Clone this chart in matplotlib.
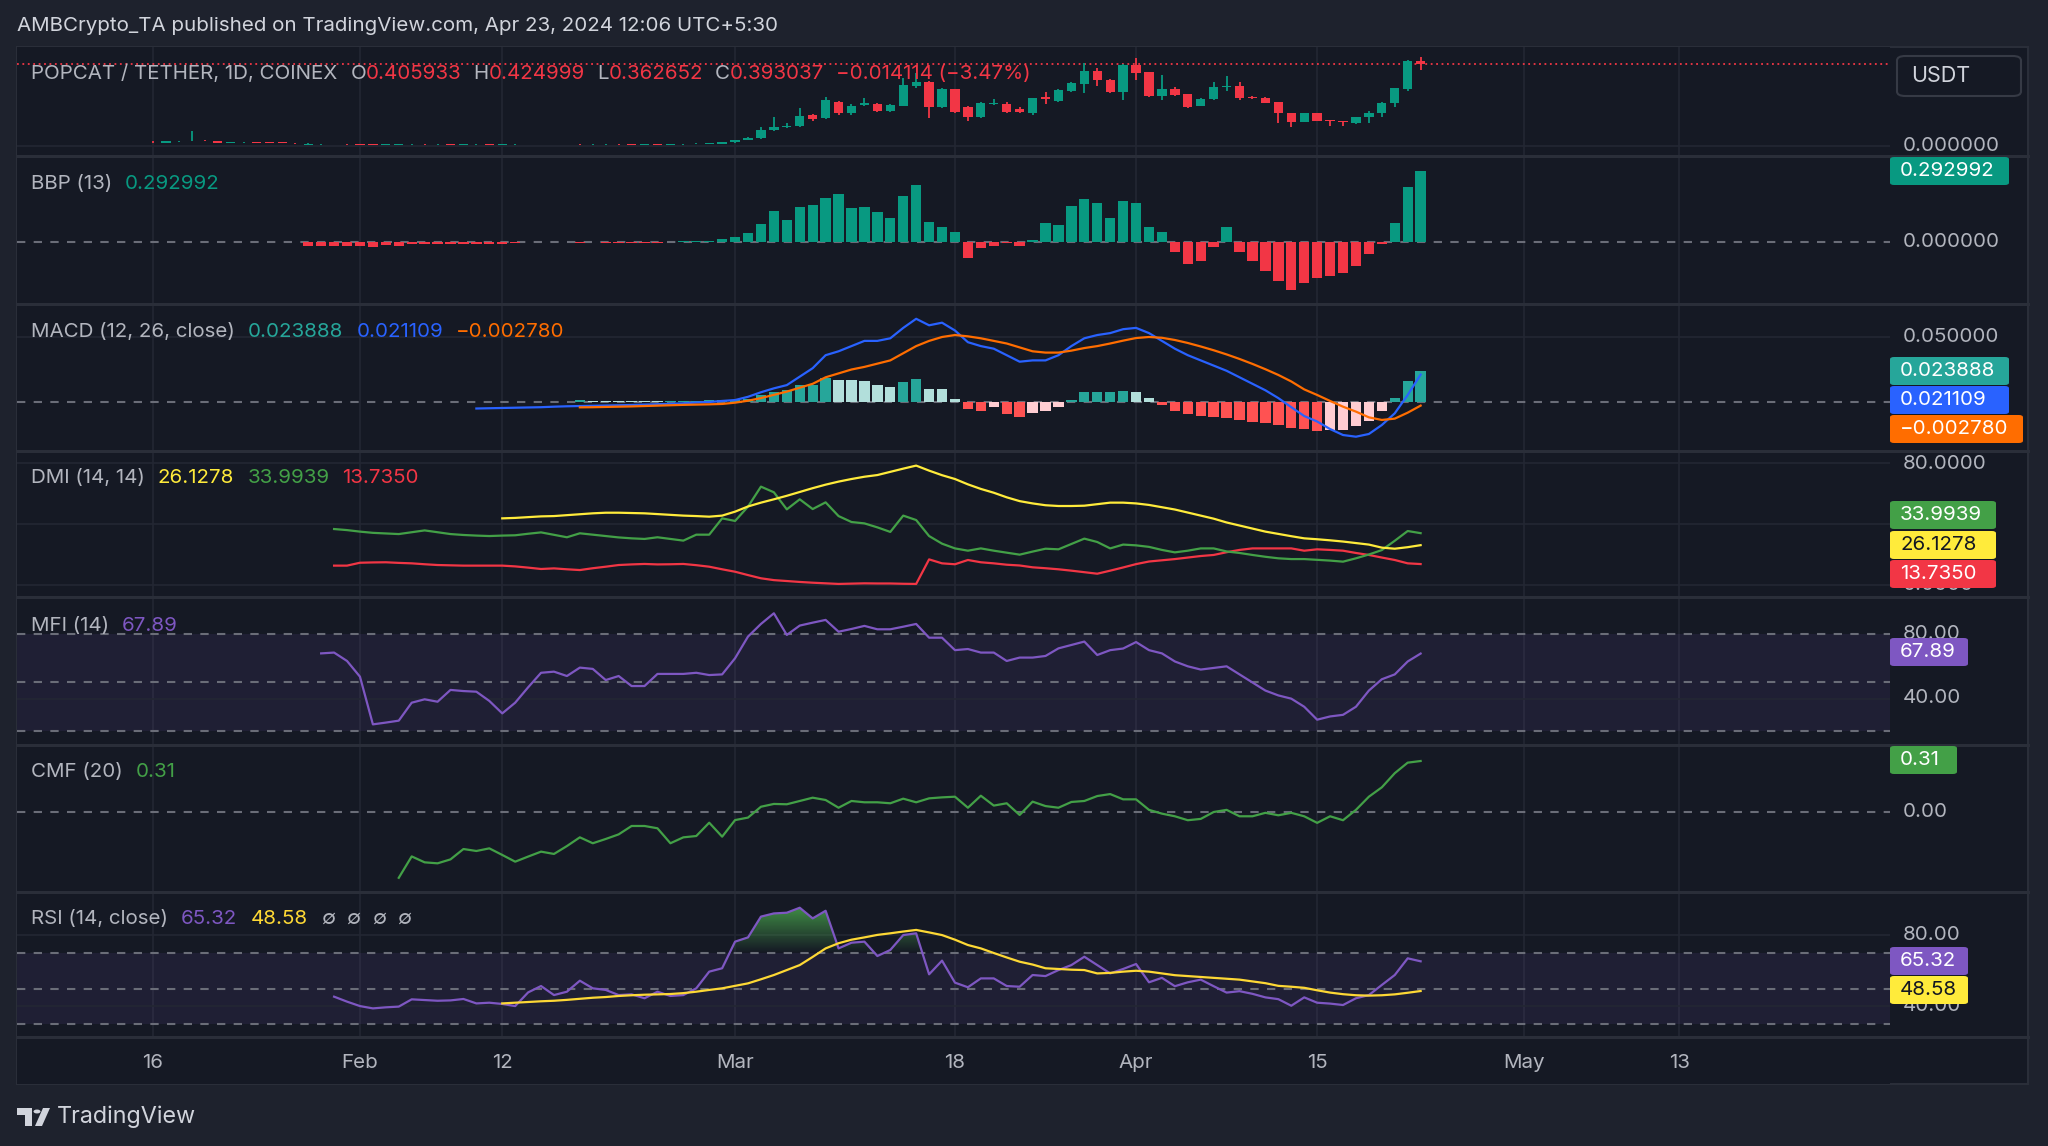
import numpy as np
import matplotlib
matplotlib.use("Agg")
import matplotlib.pyplot as plt
from matplotlib.patches import FancyBboxPatch, Polygon, Rectangle, Circle
from matplotlib.path import Path
from matplotlib.colors import LinearSegmentedColormap

plt.rcParams['font.family'] = ['Inter', 'DejaVu Sans']

W, H = 2048, 1146
BG_OUT = '#1e222d'
BG_IN = '#151924'
GRID = '#232733'
SEP = '#2a2e39'
TXT = '#b2b5be'
UP = '#089981'
DN = '#f23645'

# ---- data: one value per daily bar, day 0 = Jan 16 2024, last = Apr 23 2024
n_days = 99
days = np.arange(n_days)
tick_days = [0, 16, 27, 45, 62, 76, 90, 106, 118]
tick_labels = ['16', 'Feb', '12', 'Mar', '18', 'Apr', '15', 'May', '13']

opens = [0.021, 0.016, 0.022, 0.023, 0.025, 0.023, 0.014, 0.017, 0.018, 0.016,
         0.015, 0.014, 0.006, 0.008, 0.009, 0.010, 0.009, 0.008, 0.006, 0.007,
         0.008, 0.009, 0.008, 0.008, 0.007, 0.008, 0.008, 0.007, 0.008, 0.009,
         0.010, 0.009, 0.010, 0.009, 0.008, 0.008, 0.009, 0.008, 0.007, 0.008,
         0.007, 0.008, 0.009, 0.011, 0.0096, 0.0176, 0.029, 0.038, 0.077, 0.090,
         0.096, 0.149, 0.133, 0.212, 0.157, 0.197, 0.201, 0.169, 0.192, 0.288,
         0.308, 0.185, 0.272, 0.189, 0.141, 0.200, 0.200, 0.176, 0.157, 0.233,
         0.217, 0.265, 0.297, 0.360, 0.316, 0.260, 0.388, 0.353, 0.240, 0.272,
         0.249, 0.192, 0.224, 0.284, 0.288, 0.236, 0.230, 0.211, 0.157, 0.117,
         0.157, 0.125, 0.120, 0.109, 0.137, 0.157, 0.205, 0.272, 0.405933]
closes = [0.018, 0.022, 0.024, 0.026, 0.023, 0.015, 0.017, 0.018, 0.016, 0.015,
          0.014, 0.013, 0.008, 0.009, 0.010, 0.009, 0.007, 0.006, 0.007, 0.008,
          0.009, 0.008, 0.008, 0.007, 0.008, 0.008, 0.007, 0.008, 0.009, 0.010,
          0.009, 0.010, 0.009, 0.008, 0.008, 0.009, 0.008, 0.007, 0.008, 0.007,
          0.008, 0.009, 0.011, 0.012, 0.0176, 0.029, 0.038, 0.077, 0.093, 0.096,
          0.144, 0.128, 0.220, 0.157, 0.192, 0.205, 0.169, 0.197, 0.292, 0.308,
          0.189, 0.272, 0.165, 0.141, 0.205, 0.205, 0.165, 0.165, 0.228, 0.227,
          0.268, 0.300, 0.360, 0.316, 0.260, 0.388, 0.348, 0.240, 0.272, 0.245,
          0.189, 0.227, 0.281, 0.289, 0.228, 0.228, 0.208, 0.160, 0.117, 0.157,
          0.120, 0.121, 0.113, 0.137, 0.160, 0.205, 0.276, 0.405933, 0.393037]
highs = [0.023, 0.024, 0.026, 0.070, 0.027, 0.024, 0.018, 0.019, 0.019, 0.017,
         0.016, 0.015, 0.014, 0.011, 0.012, 0.011, 0.010, 0.009, 0.009, 0.010,
         0.011, 0.010, 0.010, 0.009, 0.010, 0.010, 0.009, 0.010, 0.011, 0.012,
         0.011, 0.012, 0.011, 0.010, 0.010, 0.011, 0.010, 0.009, 0.010, 0.009,
         0.010, 0.011, 0.013, 0.015, 0.020, 0.031, 0.042, 0.093, 0.137, 0.110,
         0.180, 0.155, 0.233, 0.215, 0.200, 0.228, 0.205, 0.200, 0.324, 0.348,
         0.310, 0.280, 0.275, 0.190, 0.210, 0.224, 0.210, 0.185, 0.232, 0.260,
         0.272, 0.305, 0.400, 0.373, 0.320, 0.395, 0.420, 0.355, 0.340, 0.285,
         0.250, 0.230, 0.305, 0.335, 0.305, 0.240, 0.235, 0.213, 0.160, 0.160,
         0.160, 0.126, 0.121, 0.140, 0.169, 0.210, 0.280, 0.410, 0.424999]
lows = [0.016, 0.015, 0.021, 0.022, 0.022, 0.013, 0.013, 0.016, 0.015, 0.014,
        0.013, 0.012, 0.005, 0.007, 0.008, 0.007, 0.006, 0.005, 0.005, 0.006,
        0.007, 0.007, 0.007, 0.006, 0.006, 0.007, 0.006, 0.006, 0.007, 0.008,
        0.008, 0.008, 0.008, 0.007, 0.007, 0.007, 0.007, 0.006, 0.006, 0.006,
        0.006, 0.007, 0.008, 0.010, 0.009, 0.015, 0.027, 0.035, 0.070, 0.085,
        0.090, 0.120, 0.128, 0.150, 0.150, 0.190, 0.165, 0.165, 0.190, 0.280,
        0.133, 0.180, 0.160, 0.121, 0.135, 0.195, 0.160, 0.158, 0.150, 0.200,
        0.212, 0.260, 0.255, 0.290, 0.255, 0.222, 0.315, 0.235, 0.220, 0.240,
        0.180, 0.190, 0.220, 0.265, 0.220, 0.225, 0.205, 0.109, 0.090, 0.115,
        0.118, 0.098, 0.097, 0.107, 0.108, 0.137, 0.185, 0.262, 0.362652]
change_text = '-0.014114 (-3.47%)'

# BBP (13), from day 12
bbp_start = 12
bbp = [-0.018, -0.016, -0.016, -0.015, -0.018, -0.019, -0.014, -0.015, -0.010, -0.008,
       -0.010, -0.009, -0.008, -0.009, -0.007, -0.008, -0.006, 0.002, 0.001, -0.002,
       0.001, -0.003, 0.001, -0.004, -0.005, -0.003, -0.004, -0.005, 0.002, 0.003,
       0.004, 0.006, 0.012, 0.019, 0.037, 0.075, 0.129, 0.092, 0.146, 0.154,
       0.182, 0.198, 0.139, 0.146, 0.122, 0.100, 0.190, 0.236, 0.083, 0.061,
       0.042, -0.068, -0.023, -0.015, -0.004, -0.015, 0.010, 0.078, 0.070, 0.149,
       0.177, 0.160, 0.100, 0.170, 0.160, 0.060, 0.040, -0.040, -0.090, -0.080,
       -0.020, 0.060, -0.040, -0.080, -0.120, -0.160, -0.200, -0.170, -0.150, -0.140,
       -0.130, -0.100, -0.050, -0.010, 0.080, 0.228, 0.292992]

# MACD (12, 26, close): macd line from day 25, signal and histogram from day 33
macd_start = 25
macd_line = [-0.0050, -0.0048, -0.0046, -0.0044, -0.0042, -0.0040, -0.0036, -0.0033, -0.0031, -0.0029,
             -0.0027, -0.0025, -0.0023, -0.0020, -0.0017, -0.0014, -0.0010, -0.0004, 0.0000, 0.0008,
             0.0015, 0.0040, 0.0075, 0.0105, 0.0130, 0.0195, 0.0260, 0.0360, 0.0390, 0.0430,
             0.0470, 0.0470, 0.0490, 0.0570, 0.0640, 0.0590, 0.0610, 0.0550, 0.0460, 0.0430,
             0.0410, 0.0360, 0.0310, 0.0320, 0.0320, 0.0360, 0.0430, 0.0490, 0.0515, 0.0530,
             0.0560, 0.0570, 0.0530, 0.0470, 0.0410, 0.0360, 0.0320, 0.0280, 0.0240, 0.0190,
             0.0140, 0.0090, 0.0030, -0.0040, -0.0108, -0.0150, -0.0208, -0.0254, -0.0267, -0.0246,
             -0.0177, -0.0087, 0.0054, 0.021109]
signal_start = 33
signal_line = [-0.0041, -0.0040, -0.0038, -0.0036, -0.0034, -0.0031, -0.0028, -0.0025, -0.0022, -0.0020,
               -0.0018, -0.0015, -0.0005, 0.0010, 0.0030, 0.0055, 0.0080, 0.0110, 0.0140, 0.0190,
               0.0220, 0.0250, 0.0270, 0.0295, 0.0320, 0.0375, 0.0430, 0.0470, 0.0500, 0.0515,
               0.0505, 0.0490, 0.0470, 0.0450, 0.0420, 0.0390, 0.0380, 0.0380, 0.0395, 0.0415,
               0.0430, 0.0450, 0.0472, 0.0492, 0.0500, 0.0494, 0.0477, 0.0454, 0.0427, 0.0398,
               0.0366, 0.0331, 0.0293, 0.0252, 0.0208, 0.0158, 0.0097, 0.0054, 0.0008, -0.0036,
               -0.0074, -0.0118, -0.0138, -0.0128, -0.0082, -0.002780]
hist = [0.0012, 0.0010, 0.0008, 0.0007, 0.0006, 0.0005, 0.0004, 0.0005, 0.0007, 0.0009,
        0.0012, 0.0013, 0.0015, 0.0023, 0.0054, 0.0080, 0.0090, 0.0130, 0.0130, 0.0187,
        0.0170, 0.0168, 0.0164, 0.0130, 0.0113, 0.0156, 0.0180, 0.0100, 0.0098, 0.0023,
        -0.0056, -0.0069, -0.0040, -0.0095, -0.0118, -0.0087, -0.0067, -0.0036, 0.0015, 0.0074,
        0.0080, 0.0080, 0.0088, 0.0078, 0.0030, -0.0024, -0.0067, -0.0094, -0.0107, -0.0118,
        -0.0126, -0.0141, -0.0153, -0.0162, -0.0178, -0.0198, -0.0205, -0.0220, -0.0215, -0.0215,
        -0.0185, -0.0144, -0.0067, 0.0028, 0.0160, 0.023888]

# DMI (14, 14): +DI / -DI from day 14, ADX from day 27
di_start = 14
di_plus = [36.7, 36.0, 35.0, 34.2, 33.8, 33.4, 34.6, 35.8, 34.6, 33.4,
           32.8, 32.4, 32.1, 32.4, 32.6, 33.6, 34.5, 32.9, 31.3, 33.9,
           33.0, 32.1, 31.2, 30.6, 30.2, 31.3, 30.2, 29.1, 33.0, 33.0,
           43.7, 42.0, 51.4, 64.5, 60.8, 49.6, 56.2, 49.8, 54.2, 45.2,
           41.3, 40.4, 37.8, 34.8, 45.5, 42.6, 32.1, 27.1, 24.0, 22.5,
           24.0, 22.5, 21.2, 19.9, 21.9, 23.8, 23.4, 26.9, 30.4, 28.2,
           24.0, 26.5, 26.0, 25.0, 23.0, 21.4, 22.5, 24.0, 24.0, 22.0,
           21.0, 19.7, 18.5, 17.5, 17.0, 17.0, 16.5, 16.0, 15.3, 17.5,
           20.0, 22.9, 29.0, 35.4, 33.9939]
di_minus = [12.7, 12.7, 14.6, 14.8, 14.9, 14.5, 14.2, 13.6, 13.1, 12.9,
            12.7, 12.7, 12.7, 12.7, 12.2, 11.4, 10.5, 10.9, 10.3, 9.8,
            11.0, 12.0, 13.1, 13.5, 13.8, 13.5, 13.6, 13.8, 13.0, 12.0,
            10.3, 8.7, 6.5, 4.4, 3.2, 2.6, 2.0, 1.5, 1.1, 0.7,
            0.9, 1.1, 1.0, 1.0, 0.8, 0.7, 16.8, 14.2, 13.6, 16.4,
            14.9, 14.2, 13.3, 12.8, 11.6, 11.0, 10.3, 9.4, 8.4, 7.4,
            9.4, 11.5, 13.7, 15.4, 16.2, 17.0, 18.0, 19.0, 19.7, 21.5,
            23.0, 24.0, 24.0, 24.0, 24.0, 22.5, 23.4, 23.0, 22.5, 21.0,
            19.7, 18.0, 16.4, 14.2, 13.7350]
adx_start = 27
adx = [43.7, 44.0, 44.5, 45.0, 45.2, 45.8, 46.4, 47.0, 47.4, 47.4,
       47.2, 47.0, 46.5, 46.0, 45.5, 45.2, 44.8, 45.5, 48.1, 51.5,
       54.0, 56.2, 58.5, 61.0, 63.5, 65.8, 67.8, 69.5, 71.0, 72.1,
       74.2, 76.3, 78.3, 75.0, 72.0, 69.5, 66.0, 63.0, 60.5, 57.5,
       55.0, 53.5, 52.3, 51.8, 51.8, 52.0, 53.0, 54.0, 54.0, 53.5,
       52.5, 51.0, 49.5, 47.5, 45.5, 43.5, 41.0, 39.0, 37.0, 35.0,
       33.5, 32.0, 30.6, 30.0, 29.3, 28.5, 27.5, 26.5, 24.5, 23.8,
       24.8, 26.1278]

# MFI (14), from day 13
mfi_start = 13
mfi = [68.0, 68.5, 63.3, 53.6, 24.1, 25.2, 26.4, 37.5, 39.6, 38.1,
       45.4, 44.7, 44.3, 38.6, 30.9, 37.5, 47.0, 56.0, 56.7, 54.0,
       59.2, 58.4, 51.5, 54.0, 47.8, 47.8, 55.3, 55.3, 55.3, 56.0,
       54.6, 55.0, 65.0, 78.4, 86.2, 92.8, 79.4, 85.2, 87.0, 88.7,
       81.4, 83.1, 85.0, 82.9, 82.9, 84.5, 86.2, 77.7, 77.7, 70.0,
       70.7, 68.5, 68.5, 63.3, 65.4, 65.4, 66.4, 71.1, 73.2, 75.3,
       67.0, 70.0, 71.0, 75.0, 70.0, 68.0, 63.0, 60.0, 58.0, 59.0,
       60.0, 55.0, 50.0, 45.0, 42.0, 40.0, 35.0, 27.0, 29.0, 30.0,
       35.0, 45.0, 52.0, 55.0, 63.0, 67.89]

# CMF (20), from day 19
cmf_start = 19
cmf = [-0.400, -0.270, -0.306, -0.312, -0.288, -0.225, -0.237, -0.221, -0.261, -0.302,
       -0.271, -0.241, -0.255, -0.207, -0.154, -0.190, -0.164, -0.136, -0.085, -0.085,
       -0.099, -0.190, -0.154, -0.146, -0.065, -0.150, -0.049, -0.034, 0.032, 0.049,
       0.047, 0.067, 0.087, 0.073, 0.026, 0.067, 0.059, 0.059, 0.053, 0.081,
       0.059, 0.083, 0.089, 0.093, 0.026, 0.099, 0.039, 0.053, -0.018, 0.063,
       0.036, 0.026, 0.061, 0.067, 0.097, 0.109, 0.077, 0.077, 0.013, -0.010,
       -0.026, -0.050, -0.042, 0.000, 0.013, -0.026, -0.026, -0.005, -0.020, -0.005,
       -0.026, -0.066, -0.026, -0.050, 0.013, 0.093, 0.150, 0.236, 0.300, 0.310]

# RSI (14, close) from day 14, its moving average from day 27
rsi_start = 14
rsi = [45.4, 42.6, 40.1, 38.8, 39.4, 39.8, 43.9, 43.5, 43.1, 43.3,
       44.1, 41.6, 42.0, 41.3, 40.1, 47.8, 51.4, 46.3, 48.2, 54.4,
       50.1, 49.2, 46.3, 46.7, 44.5, 48.2, 45.8, 46.3, 50.1, 59.5,
       61.4, 76.4, 78.8, 90.5, 92.3, 92.7, 95.5, 89.5, 93.8, 72.6,
       75.8, 76.4, 68.3, 71.7, 80.1, 81.1, 58.0, 65.7, 53.3, 50.7,
       55.7, 55.7, 51.4, 51.0, 57.6, 57.0, 60.4, 63.2, 67.9, 63.2,
       58.5, 61.0, 63.8, 53.5, 56.0, 51.3, 53.5, 55.0, 51.3, 47.7,
       48.5, 47.0, 45.0, 44.0, 40.3, 45.0, 42.0, 41.5, 40.7, 44.5,
       46.3, 52.0, 57.6, 67.0, 65.32]
rsi_ma_start = 27
rsi_ma = [41.6, 42.0, 42.4, 42.8, 43.1, 43.6, 44.2, 44.8, 45.2, 45.8,
          46.2, 46.5, 46.7, 46.9, 47.4, 48.2, 49.2, 50.1, 51.5, 52.9,
          55.2, 57.6, 60.4, 63.2, 67.8, 72.6, 75.5, 77.5, 78.8, 80.2,
          81.1, 82.1, 83.0, 81.6, 80.1, 77.5, 74.5, 72.6, 70.0, 67.5,
          65.1, 63.5, 61.4, 61.0, 60.6, 60.4, 58.5, 58.8, 59.5, 60.0,
          59.5, 58.5, 57.5, 57.0, 56.5, 56.0, 55.5, 55.0, 54.0, 53.0,
          51.5, 51.0, 50.4, 49.0, 47.7, 46.8, 46.2, 46.0, 46.2, 46.7,
          47.6, 48.58]


def px2fig(x, y):
    return x / W, 1 - y / H


fig = plt.figure(figsize=(W / 100, H / 100), dpi=100, facecolor=BG_OUT)

# chart frame (behind the panes)
frame = Rectangle(px2fig(17, 1084), (2028 - 17) / W, (1084 - 47) / H, transform=fig.transFigure,
                  facecolor=BG_IN, edgecolor=SEP, linewidth=1.5, zorder=-5)
fig.patches.append(frame)

X0, X1 = 17, 1890
day_px = 12.935
xlim = ((X0 - 153) / day_px, (X1 - 153) / day_px)


def make_pane(top, bottom, ylim, vgrid=True):
    l, b = px2fig(X0, bottom)
    ax = fig.add_axes([l, b, (X1 - X0) / W, (bottom - top) / H])
    ax.set_facecolor(BG_IN)
    ax.set_xlim(*xlim)
    ax.set_ylim(*ylim)
    for s in ax.spines.values():
        s.set_visible(False)
    ax.set_xticks([])
    ax.set_yticks([])
    if vgrid:
        for d in tick_days:
            ax.axvline(d, color=GRID, lw=1.2, zorder=0)
    return ax


def dashed(ax, y):
    ax.axhline(y, color='#6a6d78', lw=1.5, ls=(0, (4, 4)), zorder=1)


def grid_h(ax, y):
    ax.axhline(y, color=GRID, lw=1.2, zorder=0)


panes = [(47, 156), (156, 304), (304, 451), (451, 597), (597, 745), (745, 892), (892, 1037)]

# price pane
ax_p = make_pane(47, 156, (-0.0479, 0.4746))
grid_h(ax_p, 0)
col = [UP if c >= o else DN for o, c in zip(opens, closes)]
ax_p.vlines(days, lows, highs, colors=col, lw=1.3, zorder=2)
body_lo = np.minimum(opens, closes)
body_h = np.maximum(np.abs(np.array(closes) - np.array(opens)), 0.003)
ax_p.bar(days, body_h, bottom=body_lo, width=0.72, color=col, zorder=3, linewidth=0)
ax_p.axhline(closes[-1], color=DN, lw=1.3, ls=(0, (1, 2)), zorder=1)

# BBP
ax_b = make_pane(156, 304, (-0.2559, 0.3549))
dashed(ax_b, 0)
bd = np.arange(bbp_start, bbp_start + len(bbp))
ax_b.bar(bd, bbp, width=0.8, color=[UP if v >= 0 else DN for v in bbp], zorder=2, linewidth=0)

# MACD
ax_m = make_pane(304, 451, (-0.03769, 0.07538))
grid_h(ax_m, 0.05)
dashed(ax_m, 0)
hd = np.arange(signal_start, signal_start + len(hist))
hcol = []
for i, v in enumerate(hist):
    prev = hist[i - 1] if i > 0 else 0
    if v >= 0:
        hcol.append('#26a69a' if v >= prev else '#b2dfdb')
    else:
        hcol.append('#ff5252' if v < prev else '#ffcdd2')
ax_m.bar(hd, hist, width=0.8, color=hcol, zorder=2, linewidth=0)
ax_m.plot(np.arange(macd_start, macd_start + len(macd_line)), macd_line, color='#2962ff', lw=1.6, zorder=3)
ax_m.plot(np.arange(signal_start, signal_start + len(signal_line)), signal_line, color='#ff6d00', lw=1.6, zorder=3)

# DMI
ax_d = make_pane(451, 597, (-7.87, 87.87))
for v in (80, 40, 0):
    grid_h(ax_d, v)
dd = np.arange(di_start, di_start + len(di_plus))
ax_d.plot(dd, di_minus, color='#f23645', lw=1.6, zorder=3)
ax_d.plot(dd, di_plus, color='#43a047', lw=1.6, zorder=3)
ax_d.plot(np.arange(adx_start, adx_start + len(adx)), adx, color='#ffeb3b', lw=1.6, zorder=3)

# MFI
ax_f = make_pane(597, 745, (11.34, 102.87))
ax_f.axhspan(20, 80, color='#7e57c2', alpha=0.1, lw=0, zorder=0)
grid_h(ax_f, 40)
for v in (80, 50, 20):
    dashed(ax_f, v)
ax_f.plot(np.arange(mfi_start, mfi_start + len(mfi)), mfi, color='#7e57c2', lw=1.6, zorder=3)

# CMF
ax_c = make_pane(745, 892, (-0.4863, 0.4073))
dashed(ax_c, 0)
ax_c.plot(np.arange(cmf_start, cmf_start + len(cmf)), cmf, color='#43a047', lw=1.6, zorder=3)

# RSI
ax_r = make_pane(892, 1037, (22.68, 104.37))
ax_r.axhspan(30, 70, color='#7e57c2', alpha=0.1, lw=0, zorder=0)
grid_h(ax_r, 80)
grid_h(ax_r, 40)
for v in (70, 50, 30):
    dashed(ax_r, v)
rd = np.arange(rsi_start, rsi_start + len(rsi))
rsi_arr = np.array(rsi)
fb = ax_r.fill_between(rd, 70, rsi_arr, where=rsi_arr > 70, interpolate=True, facecolor='none', lw=0)
grad = np.linspace(0, 1, 100).reshape(-1, 1)
gcmap = LinearSegmentedColormap.from_list('g', [(0.30, 0.69, 0.31, 0.0), (0.30, 0.69, 0.31, 0.8)])
img = ax_r.imshow(grad, extent=[rd[0], rd[-1], 70, 97], origin='lower', aspect='auto', cmap=gcmap, zorder=2)
clip = Path.make_compound_path(*fb.get_paths())
img.set_clip_path(clip, transform=ax_r.transData)
ax_r.set_xlim(*xlim)
ax_r.set_ylim(22.68, 104.37)
ax_r.plot(rd, rsi, color='#7e57c2', lw=1.6, zorder=3)
ax_r.plot(np.arange(rsi_ma_start, rsi_ma_start + len(rsi_ma)), rsi_ma, color='#fdd835', lw=1.6, zorder=3)

fs = 14.8

# time axis
ax_t = make_pane(1037, 1084, (0, 1), vgrid=False)
for d, lab in zip(tick_days, tick_labels):
    ax_t.text(d, 0.45, lab, ha='center', va='center', color=TXT, fontsize=fs)

# pane separators
for top, bottom in panes:
    fig.add_artist(plt.Line2D([17 / W, 2028 / W], [1 - bottom / H] * 2, color=SEP, lw=2.2))

# ---- texts
fig.text(17 / W, 1 - 26 / H, 'AMBCrypto_TA published on TradingView.com, Apr 23, 2024 12:06 UTC+5:30',
         color='#d1d4dc', fontsize=fs, va='center', ha='left')

renderer = fig.canvas.get_renderer()


def header(y, parts, x=31):
    # parts: (text, colour, gap after in px)
    for s, c, gap in parts:
        t = fig.text(x / W, 1 - y / H, s.replace('-', '\u2212'), color=c, fontsize=fs, va='center', ha='left')
        x += t.get_window_extent(renderer).width + gap


header(74, [('POPCAT / TETHER, 1D, COINEX', TXT, 13), ('O', TXT, 0), ('%.6f' % opens[-1], DN, 12),
            ('H', TXT, 0), ('%.6f' % highs[-1], DN, 12), ('L', TXT, 0), ('%.6f' % lows[-1], DN, 12),
            ('C', TXT, 0), ('%.6f' % closes[-1], DN, 12), (change_text, DN, 0)])
header(184, [('BBP (13)', TXT, 13), ('%.6f' % bbp[-1], UP, 0)])
header(332, [('MACD (12, 26, close)', TXT, 13), ('%.6f' % hist[-1], '#26a69a', 13),
             ('%.6f' % macd_line[-1], '#2962ff', 13), ('%.6f' % signal_line[-1], '#ff6d00', 0)])
header(478, [('DMI (14, 14)', TXT, 13), ('%.4f' % adx[-1], '#ffeb3b', 13), ('%.4f' % di_plus[-1], '#43a047', 13),
             ('%.4f' % di_minus[-1], '#f23645', 0)])
header(626, [('MFI (14)', TXT, 13), ('%.2f' % mfi[-1], '#7e57c2', 0)])
header(772, [('CMF (20)', TXT, 13), ('%.2f' % cmf[-1], '#43a047', 0)])
header(919, [('RSI (14, close)', TXT, 13), ('%.2f' % rsi[-1], '#7e57c2', 13), ('%.2f' % rsi_ma[-1], '#fdd835', 14),
             ('\u2205', TXT, 11), ('\u2205', TXT, 11), ('\u2205', TXT, 11), ('\u2205', TXT, 0)])


# price scale labels
def scale_label(y, s):
    fig.text(1903 / W, 1 - y / H, s, color=TXT, fontsize=fs, va='center', ha='left')


def tag(y, s, fc, tc='white', w=119):
    box = FancyBboxPatch(px2fig(1890, y + 14), w / W, 28 / H, boxstyle='round,pad=0,rounding_size=0.002',
                         transform=fig.transFigure, facecolor=fc, edgecolor='none', zorder=5)
    fig.patches.append(box)
    fig.text(1900 / W, 1 - y / H, s.replace('-', '\u2212'), color=tc, fontsize=fs, va='center', ha='left', zorder=6)


scale_label(146, '0.000000')
scale_label(242, '0.000000')
scale_label(337, '0.050000')
scale_label(464, '80.0000')
scale_label(585, '0.0000')
scale_label(634, '80.00')
scale_label(698, '40.00')
scale_label(812, '0.00')
scale_label(935, '80.00')
scale_label(1006, '40.00')

tag(171, '%.6f' % bbp[-1], UP)
tag(371, '%.6f' % hist[-1], '#26a69a')
tag(400, '%.6f' % macd_line[-1], '#2962ff')
tag(429, '%.6f' % signal_line[-1], '#ff6d00', w=133)
tag(515, '%.4f' % di_plus[-1], '#43a047', w=106)
tag(545, '%.4f' % adx[-1], '#ffeb3b', tc='#131722', w=106)
tag(574, '%.4f' % di_minus[-1], '#f23645', w=106)
tag(652, '%.2f' % mfi[-1], '#7e57c2', w=78)
tag(760, '%.2f' % cmf[-1], '#43a047', w=67)
tag(961, '%.2f' % rsi[-1], '#7e57c2', w=78)
tag(990, '%.2f' % rsi_ma[-1], '#ffeb3b', tc='#131722', w=78)

# USDT box
ub = FancyBboxPatch(px2fig(1897, 96), 124 / W, 40 / H, boxstyle='round,pad=0,rounding_size=0.004',
                    transform=fig.transFigure, facecolor=BG_IN, edgecolor='#363a45', lw=1.5, zorder=5)
fig.patches.append(ub)
fig.text(1911 / W, 1 - 76 / H, 'USDT', color='#d1d4dc', fontsize=15.5, va='center', ha='left', zorder=6)

# TradingView logo + name
logo_col = '#d1d4dc'
fig.patches.append(Polygon([px2fig(*p) for p in [(17, 1108), (32, 1108), (32, 1126), (25, 1126), (25, 1115), (17, 1115)]],
                           closed=True, transform=fig.transFigure, facecolor=logo_col, edgecolor='none'))
fig.patches.append(Circle(px2fig(37, 1111.5), 3.5 / W, transform=fig.transFigure, facecolor=logo_col))
fig.patches.append(Polygon([px2fig(*p) for p in [(43, 1108), (50, 1108), (42, 1126), (35, 1126)]],
                           closed=True, transform=fig.transFigure, facecolor=logo_col, edgecolor='none'))
fig.text(57 / W, 1 - 1117 / H, 'TradingView', color=logo_col, fontsize=16.8, va='center', ha='left')

fig.savefig('out.png', dpi=100, facecolor=BG_OUT)
